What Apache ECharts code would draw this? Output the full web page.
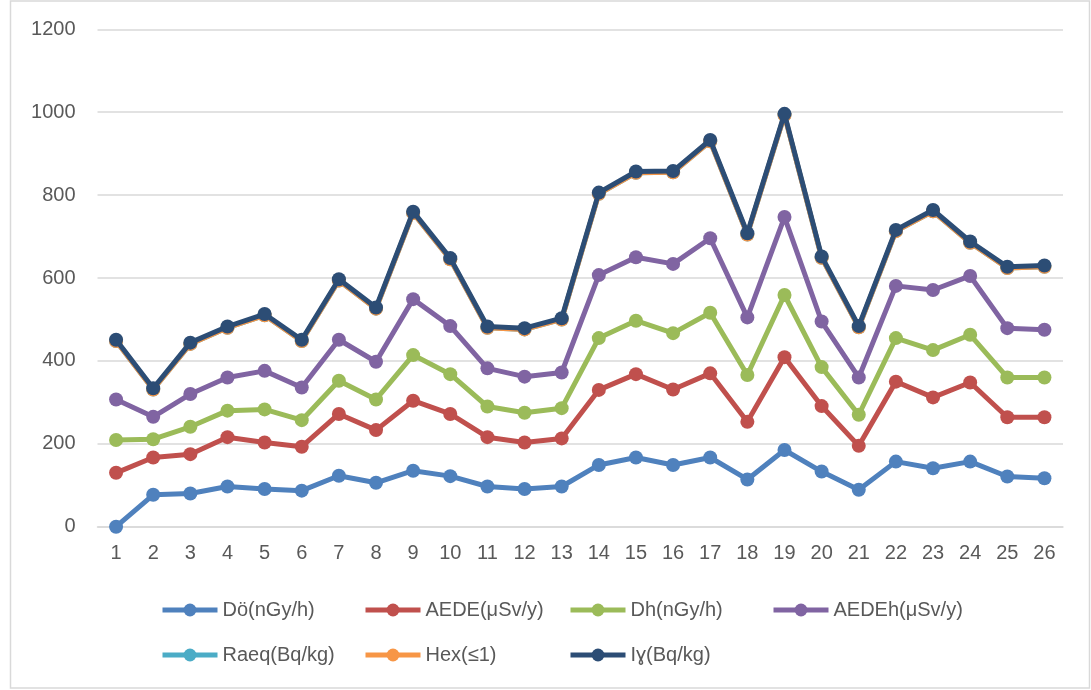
<!DOCTYPE html>
<html>
<head>
<meta charset="utf-8">
<script src="https://cdn.jsdelivr.net/npm/echarts@6/dist/echarts.min.js"></script>
<style>
  html, body { margin: 0; padding: 0; background: #ffffff; }
  #chart { width: 1091px; height: 690px; }
</style>
</head>
<body>
<div id="chart"></div>
<script>
// Sample stations 1..26
const categories = ['1','2','3','4','5','6','7','8','9','10','11','12','13','14','15','16','17','18','19','20','21','22','23','24','25','26'];

const seriesNames = ['Dö(nGy/h)', 'AEDE(μSv/y)', 'Dh(nGy/h)', 'AEDEh(μSv/y)', 'Raeq(Bq/kg)', 'Hex(≤1)', 'Iɣ(Bq/kg)'];

const doseRate   = [0, 77, 80, 97, 91, 87, 123, 106, 135, 122, 97, 91, 97, 149, 167, 149, 167, 114, 185, 133, 89, 157, 141, 157, 121, 117];
const aede       = [130, 167, 175, 216, 203, 193, 272, 233, 304, 272, 216, 203, 213, 330, 368, 331, 370, 253, 409, 291, 195, 350, 312, 348, 264, 264];
const dh         = [209, 211, 241, 280, 283, 257, 352, 307, 414, 368, 290, 275, 286, 455, 497, 467, 516, 366, 559, 385, 270, 455, 426, 463, 360, 360];
const aedeh      = [307, 265, 320, 360, 376, 336, 451, 398, 549, 484, 382, 362, 372, 607, 650, 634, 696, 505, 747, 495, 360, 581, 571, 605, 479, 475];
const raeq       = [448, 331, 441, 480, 510, 448, 594, 526, 757, 645, 480, 476, 500, 803, 854, 855, 930, 705, 993, 649, 481, 713, 761, 685, 624, 627];
const hex        = [448, 331, 441, 480, 510, 448, 594, 526, 757, 645, 480, 476, 500, 803, 854, 855, 930, 705, 993, 649, 481, 713, 761, 685, 624, 627];
const igamma     = [451, 334, 444, 483, 513, 451, 597, 529, 760, 648, 483, 479, 503, 806, 857, 858, 933, 708, 996, 652, 484, 716, 764, 688, 627, 630];

const yTicks = { min: 0, max: 1200, interval: 200 };

const colors = ['#4F81BD', '#C0504D', '#9BBB59', '#8064A2', '#4BACC6', '#F79646', '#2C4D75'];
const values = [doseRate, aede, dh, aedeh, raeq, hex, igamma];

const FONT = 'Liberation Sans';
const TEXT = '#595959';

const series = seriesNames.map((name, i) => ({
  name: name,
  type: 'line',
  data: values[i],
  symbol: 'circle',
  symbolSize: 14,
  showSymbol: true,
  color: colors[i],
  lineStyle: { width: 5, color: colors[i] },
  itemStyle: { color: colors[i] },
  emphasis: { disabled: true },
  animation: false,
  z: 2 + i
}));

// legend laid out in two rows of fixed columns
const legendSlots = [
  { left: 160, top: 600 }, { left: 363, top: 600 }, { left: 568, top: 600 }, { left: 771, top: 600 },
  { left: 160, top: 645 }, { left: 363, top: 645 }, { left: 568, top: 645 }
];
const legends = seriesNames.map((name, i) => ({
  data: [name],
  left: legendSlots[i].left,
  top: legendSlots[i].top,
  padding: 0,
  itemWidth: 55,
  itemHeight: 16,
  selectedMode: false,
  lineStyle: { width: 5 },
  textStyle: { fontFamily: FONT, fontSize: 20, color: TEXT }
}));

const chart = echarts.init(document.getElementById('chart'), null, { renderer: 'canvas' });
chart.setOption({
  animation: false,
  backgroundColor: '#ffffff',
  grid: { left: 97.5, right: 28, top: 29.3, bottom: 163.3, containLabel: false },
  legend: legends,
  xAxis: {
    type: 'category',
    data: categories,
    boundaryGap: true,
    axisTick: { show: false },
    axisLine: { show: true, lineStyle: { color: '#D9D9D9', width: 1.5 } },
    axisLabel: { margin: 17, fontFamily: FONT, fontSize: 20, color: TEXT, interval: 0 }
  },
  yAxis: {
    type: 'value',
    min: yTicks.min,
    max: yTicks.max,
    interval: yTicks.interval,
    axisLine: { show: false },
    axisTick: { show: false },
    splitLine: { lineStyle: { color: '#D9D9D9', width: 1.5 } },
    axisLabel: { margin: 22, fontFamily: FONT, fontSize: 20, color: TEXT, formatter: (v) => String(v) }
  },
  graphic: [{
    type: 'rect',
    shape: { x: 10.5, y: 1, width: 1079, height: 687 },
    style: { fill: 'none', stroke: '#D9D9D9', lineWidth: 1.5 },
    silent: true,
    z: -1
  }],
  series: series
});
</script>
</body>
</html>
